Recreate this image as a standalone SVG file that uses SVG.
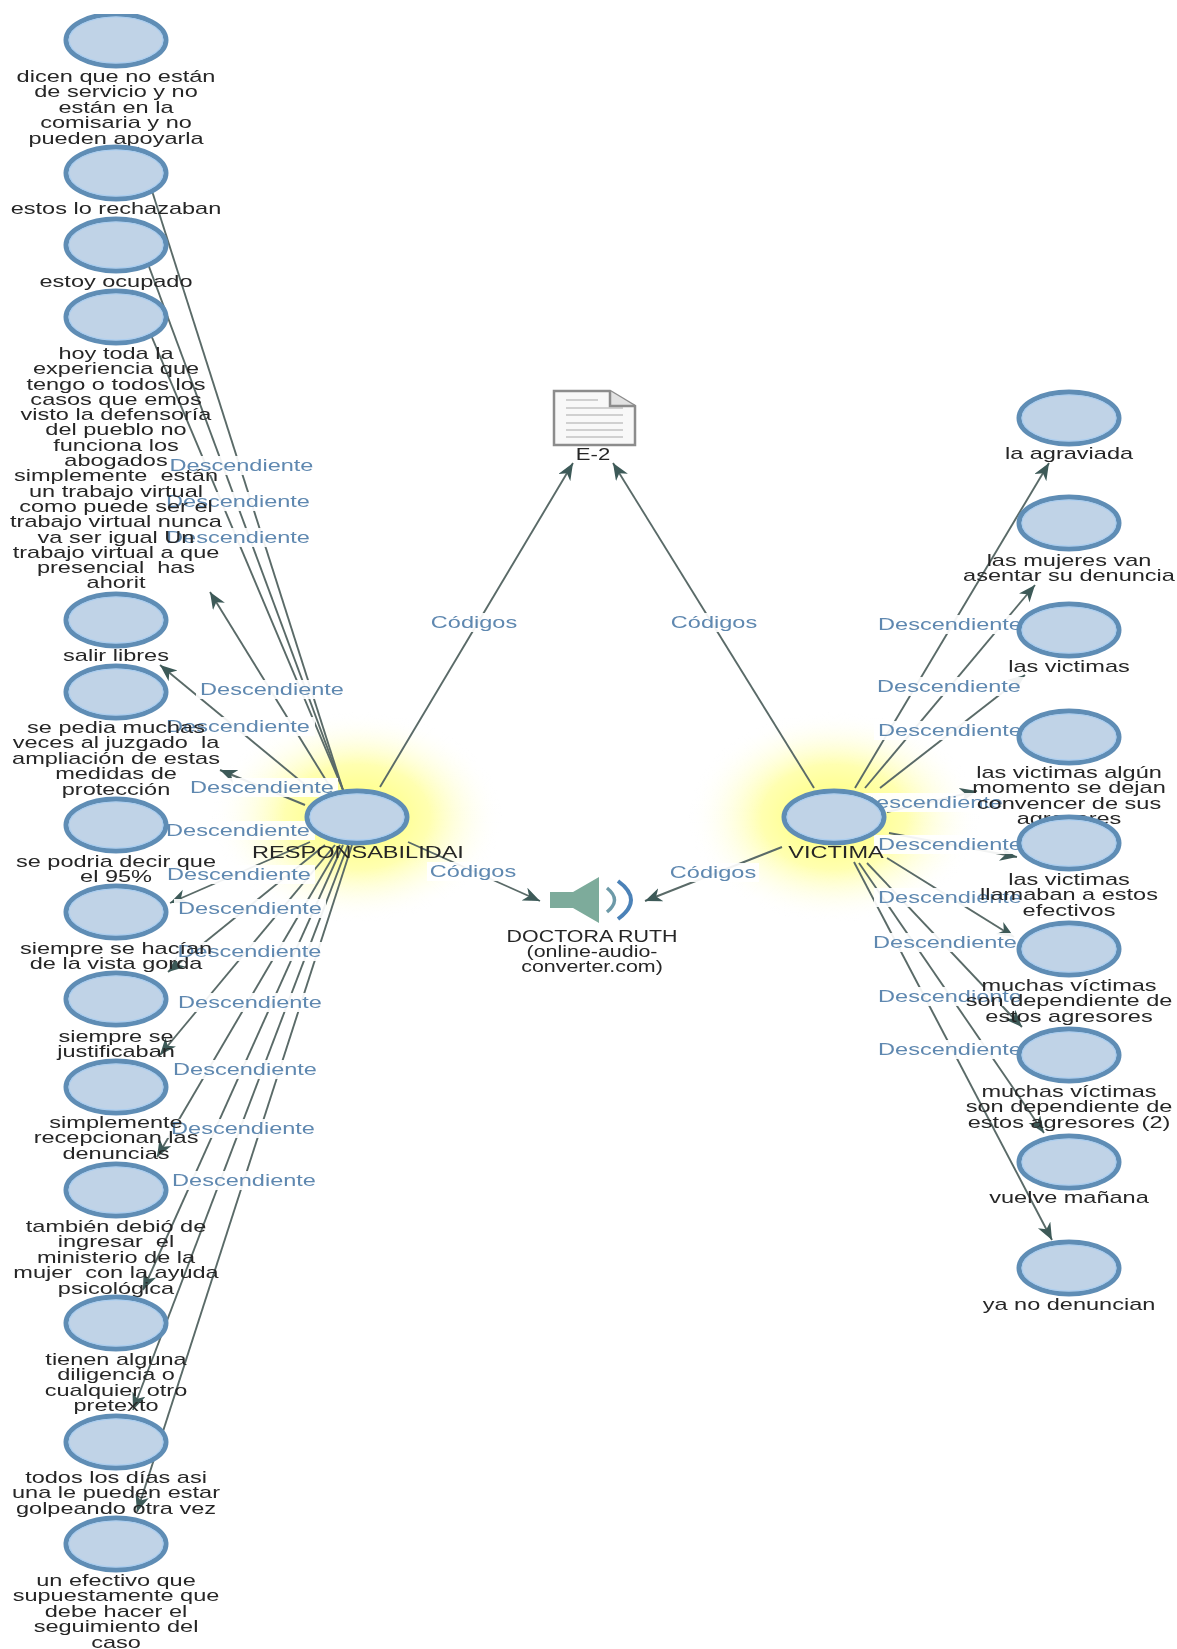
<svg xmlns="http://www.w3.org/2000/svg" width="1177" height="1649" viewBox="0 0 1177 1649">
<style>
text{font-family:"Liberation Sans",Arial,sans-serif;font-size:17px;text-anchor:middle;white-space:pre}
.t{fill:#262626}
.e{fill:#5f88b0}
.l{fill:none;stroke:#5a6b68;stroke-width:1.9;marker-end:url(#a)}
.bg{fill:#fff;fill-opacity:.92}
.o{fill:#c0d3e7;stroke:#5f8db5;stroke-width:5}
.i{fill:none;stroke:#a9cdf0;stroke-width:1.2}
.dl{stroke:#a8a8a8;stroke-width:1.2}
</style>
<defs>
<marker id="a" markerUnits="userSpaceOnUse" markerWidth="18" markerHeight="15" refX="17" refY="7" orient="auto"><path d="M0 0L17 7L0 14L5 7Z" fill="#3d5a58"/></marker>
<radialGradient id="g"><stop offset="0" stop-color="#ffff70"/><stop offset=".5" stop-color="#ffffb0"/><stop offset="1" stop-color="#fff" stop-opacity="0"/></radialGradient>
<filter id="s" x="0" y="0" width="100%" height="100%"><feGaussianBlur stdDeviation=".4"/></filter>
<g id="b"><ellipse class="o" rx="50" ry="26"/><ellipse class="i" rx="47" ry="23"/></g>
</defs>
<rect width="1177" height="1649" fill="#fff"/>
<g filter="url(#s)">
<g id="glow">
<ellipse cx="357" cy="817" rx="145" ry="105" fill="url(#g)"/>
<ellipse cx="834" cy="817" rx="145" ry="105" fill="url(#g)"/>
</g>
<g id="connectors">
<path class="l" d="M343 790L138 147"/>
<path class="l" d="M343 790L131 218"/>
<path class="l" d="M343 790L132 290"/>
<path class="l" d="M332 790L210 592"/>
<path class="l" d="M315 793L160 665"/>
<path class="l" d="M305 805L220 770"/>
<path class="l" d="M310 842L170 903"/>
<path class="l" d="M325 845L168 972"/>
<path class="l" d="M335 845L160 1055"/>
<path class="l" d="M340 845L157 1157"/>
<path class="l" d="M343 845L143 1290"/>
<path class="l" d="M348 845L133 1410"/>
<path class="l" d="M352 845L137 1512"/>
<path class="l" d="M855 788L1049 463"/>
<path class="l" d="M865 788L1035 585"/>
<path class="l" d="M880 788L1025 675"/>
<path class="l" d="M887 812L977 791"/>
<path class="l" d="M889 833L1017 857"/>
<path class="l" d="M887 858L1014 937"/>
<path class="l" d="M867 863L1022 1027"/>
<path class="l" d="M859 863L1044 1133"/>
<path class="l" d="M854 862L1052 1240"/>
<path class="l" d="M380 787L573 463"/>
<path class="l" d="M814 788L613 463"/>
<path class="l" d="M408 842L540 901"/>
<path class="l" d="M782 847L645 901"/>
<g id="edge-labels">
<rect class="bg" x="166" y="456" width="152" height="19"/><text class="e" transform="translate(241.5,471) scale(1.385,1)">Descendiente</text>
<rect class="bg" x="163" y="492" width="152" height="19"/><text class="e" transform="translate(238,507) scale(1.385,1)">Descendiente</text>
<rect class="bg" x="163" y="528" width="152" height="19"/><text class="e" transform="translate(238,543) scale(1.385,1)">Descendiente</text>
<rect class="bg" x="196" y="680" width="152" height="19"/><text class="e" transform="translate(272,695) scale(1.385,1)">Descendiente</text>
<rect class="bg" x="163" y="717" width="152" height="19"/><text class="e" transform="translate(238,732) scale(1.385,1)">Descendiente</text>
<rect class="bg" x="186" y="778" width="152" height="19"/><text class="e" transform="translate(262,793) scale(1.385,1)">Descendiente</text>
<rect class="bg" x="163" y="821" width="152" height="19"/><text class="e" transform="translate(238,836) scale(1.385,1)">Descendiente</text>
<rect class="bg" x="163" y="865" width="152" height="19"/><text class="e" transform="translate(239,880) scale(1.385,1)">Descendiente</text>
<rect class="bg" x="174" y="899" width="152" height="19"/><text class="e" transform="translate(250,914) scale(1.385,1)">Descendiente</text>
<rect class="bg" x="174" y="942" width="152" height="19"/><text class="e" transform="translate(249.5,957) scale(1.385,1)">Descendiente</text>
<rect class="bg" x="174" y="993" width="152" height="19"/><text class="e" transform="translate(250,1008) scale(1.385,1)">Descendiente</text>
<rect class="bg" x="169" y="1060" width="152" height="19"/><text class="e" transform="translate(245,1075) scale(1.385,1)">Descendiente</text>
<rect class="bg" x="167" y="1119" width="152" height="19"/><text class="e" transform="translate(243,1134) scale(1.385,1)">Descendiente</text>
<rect class="bg" x="168" y="1171" width="152" height="19"/><text class="e" transform="translate(244,1186) scale(1.385,1)">Descendiente</text>
<rect class="bg" x="874" y="615" width="152" height="19"/><text class="e" transform="translate(950,630) scale(1.385,1)">Descendiente</text>
<rect class="bg" x="873" y="677" width="152" height="19"/><text class="e" transform="translate(949,692) scale(1.385,1)">Descendiente</text>
<rect class="bg" x="874" y="721" width="152" height="19"/><text class="e" transform="translate(950,736) scale(1.385,1)">Descendiente</text>
<rect class="bg" x="855" y="793" width="152" height="19"/><text class="e" transform="translate(931,808) scale(1.385,1)">Descendiente</text>
<rect class="bg" x="874" y="835" width="152" height="19"/><text class="e" transform="translate(950,850) scale(1.385,1)">Descendiente</text>
<rect class="bg" x="874" y="888" width="152" height="19"/><text class="e" transform="translate(950,903) scale(1.385,1)">Descendiente</text>
<rect class="bg" x="869" y="933" width="152" height="19"/><text class="e" transform="translate(945,948) scale(1.385,1)">Descendiente</text>
<rect class="bg" x="874" y="987" width="152" height="19"/><text class="e" transform="translate(950,1002) scale(1.385,1)">Descendiente</text>
<rect class="bg" x="874" y="1040" width="152" height="19"/><text class="e" transform="translate(950,1055) scale(1.385,1)">Descendiente</text>
<rect class="bg" x="428" y="613" width="92" height="19"/><text class="e" transform="translate(474,628) scale(1.385,1)">Códigos</text>
<rect class="bg" x="668" y="613" width="92" height="19"/><text class="e" transform="translate(714,628) scale(1.385,1)">Códigos</text>
<rect class="bg" x="427" y="862" width="92" height="19"/><text class="e" transform="translate(473,877) scale(1.385,1)">Códigos</text>
<rect class="bg" x="667" y="863" width="92" height="19"/><text class="e" transform="translate(713,878) scale(1.385,1)">Códigos</text>
</g>
</g>
<g id="n1"><use href="#b" x="116" y="40"/><text class="t" transform="translate(116,82) scale(1.385,1)"><tspan x="0">dicen que no están</tspan><tspan x="0" dy="15.4">de servicio y no</tspan><tspan x="0" dy="15.4">están en la</tspan><tspan x="0" dy="15.4">comisaria y no</tspan><tspan x="0" dy="15.4">pueden apoyarla</tspan></text></g>
<g id="n2"><use href="#b" x="116" y="173"/><text class="t" transform="translate(116,214) scale(1.385,1)">estos lo rechazaban</text></g>
<g id="n3"><use href="#b" x="116" y="245"/><text class="t" transform="translate(116,287) scale(1.385,1)">estoy ocupado</text></g>
<g id="n4"><use href="#b" x="116" y="317"/><text class="t" transform="translate(116,359) scale(1.385,1)"><tspan x="0">hoy toda la</tspan><tspan x="0" dy="15.3">experiencia que</tspan><tspan x="0" dy="15.3">tengo o todos los</tspan><tspan x="0" dy="15.3">casos que emos</tspan><tspan x="0" dy="15.3">visto la defensoría</tspan><tspan x="0" dy="15.3">del pueblo no</tspan><tspan x="0" dy="15.3">funciona los</tspan><tspan x="0" dy="15.3">abogados</tspan><tspan x="0" dy="15.3">simplemente  están</tspan><tspan x="0" dy="15.3">un trabajo virtual</tspan><tspan x="0" dy="15.3">como puede ser el</tspan><tspan x="0" dy="15.3">trabajo virtual nunca</tspan><tspan x="0" dy="15.3">va ser igual Un</tspan><tspan x="0" dy="15.3">trabajo virtual a que</tspan><tspan x="0" dy="15.3">presencial  has</tspan><tspan x="0" dy="15.3">ahorit</tspan></text></g>
<g id="n5"><use href="#b" x="116" y="620"/><text class="t" transform="translate(116,661) scale(1.385,1)">salir libres</text></g>
<g id="n6"><use href="#b" x="116" y="692"/><text class="t" transform="translate(116,733) scale(1.385,1)"><tspan x="0">se pedia muchas</tspan><tspan x="0" dy="15.4">veces al juzgado  la</tspan><tspan x="0" dy="15.4">ampliación de estas</tspan><tspan x="0" dy="15.4">medidas de</tspan><tspan x="0" dy="15.4">protección</tspan></text></g>
<g id="n7"><use href="#b" x="116" y="825"/><text class="t" transform="translate(116,867) scale(1.385,1)"><tspan x="0">se podria decir que</tspan><tspan x="0" dy="15.4">el 95%</tspan></text></g>
<g id="n8"><use href="#b" x="116" y="912"/><text class="t" transform="translate(116,954) scale(1.385,1)"><tspan x="0">siempre se hacían</tspan><tspan x="0" dy="15.4">de la vista gorda</tspan></text></g>
<g id="n9"><use href="#b" x="116" y="999"/><text class="t" transform="translate(116,1042) scale(1.385,1)"><tspan x="0">siempre se</tspan><tspan x="0" dy="15.4">justificaban</tspan></text></g>
<g id="n10"><use href="#b" x="116" y="1087"/><text class="t" transform="translate(116,1128) scale(1.385,1)"><tspan x="0">simplemente</tspan><tspan x="0" dy="15.4">recepcionan las</tspan><tspan x="0" dy="15.4">denuncias</tspan></text></g>
<g id="n11"><use href="#b" x="116" y="1190"/><text class="t" transform="translate(116,1232) scale(1.385,1)"><tspan x="0">también debió de</tspan><tspan x="0" dy="15.4">ingresar  el</tspan><tspan x="0" dy="15.4">ministerio de la</tspan><tspan x="0" dy="15.4">mujer  con la ayuda</tspan><tspan x="0" dy="15.4">psicológica</tspan></text></g>
<g id="n12"><use href="#b" x="116" y="1323"/><text class="t" transform="translate(116,1365) scale(1.385,1)"><tspan x="0">tienen alguna</tspan><tspan x="0" dy="15.4">diligencia o</tspan><tspan x="0" dy="15.4">cualquier otro</tspan><tspan x="0" dy="15.4">pretexto</tspan></text></g>
<g id="n13"><use href="#b" x="116" y="1442"/><text class="t" transform="translate(116,1483) scale(1.385,1)"><tspan x="0">todos los días asi</tspan><tspan x="0" dy="15.4">una le pueden estar</tspan><tspan x="0" dy="15.4">golpeando otra vez</tspan></text></g>
<g id="n14"><use href="#b" x="116" y="1544"/><text class="t" transform="translate(116,1586) scale(1.385,1)"><tspan x="0">un efectivo que</tspan><tspan x="0" dy="15.4">supuestamente que</tspan><tspan x="0" dy="15.4">debe hacer el</tspan><tspan x="0" dy="15.4">seguimiento del</tspan><tspan x="0" dy="15.4">caso</tspan></text></g>
<g id="r1"><use href="#b" x="1069" y="418"/><text class="t" transform="translate(1069,459) scale(1.385,1)">la agraviada</text></g>
<g id="r2"><use href="#b" x="1069" y="523"/><text class="t" transform="translate(1069,566) scale(1.385,1)"><tspan x="0">las mujeres van</tspan><tspan x="0" dy="15.4">asentar su denuncia</tspan></text></g>
<g id="r3"><use href="#b" x="1069" y="630"/><text class="t" transform="translate(1069,672) scale(1.385,1)">las victimas</text></g>
<g id="r4"><use href="#b" x="1069" y="737"/><text class="t" transform="translate(1069,778) scale(1.385,1)"><tspan x="0">las victimas algún</tspan><tspan x="0" dy="15.4">momento se dejan</tspan><tspan x="0" dy="15.4">convencer de sus</tspan><tspan x="0" dy="15.4">agresores</tspan></text></g>
<g id="r5"><use href="#b" x="1069" y="843"/><text class="t" transform="translate(1069,885) scale(1.385,1)"><tspan x="0">las victimas</tspan><tspan x="0" dy="15.4">llamaban a estos</tspan><tspan x="0" dy="15.4">efectivos</tspan></text></g>
<g id="r6"><use href="#b" x="1069" y="949"/><text class="t" transform="translate(1069,991) scale(1.385,1)"><tspan x="0">muchas víctimas</tspan><tspan x="0" dy="15.4">son dependiente de</tspan><tspan x="0" dy="15.4">estos agresores</tspan></text></g>
<g id="r7"><use href="#b" x="1069" y="1055"/><text class="t" transform="translate(1069,1097) scale(1.385,1)"><tspan x="0">muchas víctimas</tspan><tspan x="0" dy="15.4">son dependiente de</tspan><tspan x="0" dy="15.4">estos agresores (2)</tspan></text></g>
<g id="r8"><use href="#b" x="1069" y="1162"/><text class="t" transform="translate(1069,1203) scale(1.385,1)">vuelve mañana</text></g>
<g id="r9"><use href="#b" x="1069" y="1268"/><text class="t" transform="translate(1069,1310) scale(1.385,1)">ya no denuncian</text></g>
<g id="hub-responsabilidad"><use href="#b" x="357" y="817"/><text class="t" transform="translate(358,858) scale(1.385,1)">RESPONSABILIDAI</text></g>
<g id="hub-victima"><use href="#b" x="834" y="817"/><text class="t" transform="translate(836,858) scale(1.385,1)">VICTIMA</text></g>
<g id="doc-e2">
<path d="M554 391H610L635 406V445H554Z" fill="#f8f8f8" stroke="#8c8c8c" stroke-width="2.5"/>
<path d="M610 391V406H635" fill="#e2e2e2" stroke="#8c8c8c" stroke-width="2.5"/>
<path class="dl" d="M566 400H598M566 408H623M566 415H623M566 423H623M566 430H623M566 437H623"/>
<text class="t" transform="translate(593,460) scale(1.3,1)">E-2</text>
</g>
<g id="audio-doctora-ruth">
<path d="M550 892H573L599 877V923L573 908H550Z" fill="#7dab9b"/>
<path d="M607 888Q622 900 607 912" fill="none" stroke="#6d9aa8" stroke-width="3.5"/>
<path d="M618 881Q644 900 618 919" fill="none" stroke="#4c82b8" stroke-width="4"/>
<text class="t" transform="translate(592,942) scale(1.26,1)">DOCTORA RUTH</text>
<text class="t" transform="translate(592,957) scale(1.26,1)"><tspan x="0">(online-audio-</tspan><tspan x="0" dy="15.4">converter.com)</tspan></text>
</g>
</g>
</svg>
